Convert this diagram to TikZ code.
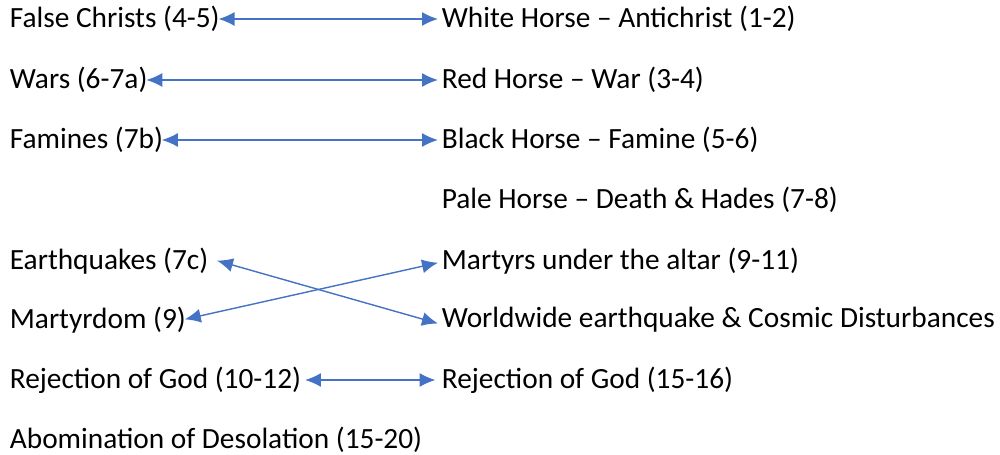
\documentclass[tikz,border=0pt]{standalone}
\usepackage{fontspec}
\setmainfont{Carlito}
\usetikzlibrary{arrows.meta, positioning}
\definecolor{cblue}{HTML}{4472C4}
\tikzset{
  every picture/.style={font=\fontsize{16.7}{20}\selectfont},
  item/.style={anchor=west, inner sep=2pt},
  link/.style={{Latex[length=3.2mm, width=2.8mm]}-{Latex[length=3.2mm, width=2.8mm]}, draw=cblue, line width=0.8pt},
}

\begin{document}
\begin{tikzpicture}[x=0.02cm, y=-0.02cm]
  \useasboundingbox (0,0) rectangle (1000,455);
  % left column
  \node[item] (fc) at (6,19) {False Christs (4-5)};
  \node[item] (wa) at (6,80) {Wars (6-7a)};
  \node[item] (fa) at (6,140) {Famines (7b)};
  \node[item] (eq) at (6,261) {Earthquakes (7c)};
  \node[item] (ma) at (6,320) {Martyrdom (9)};
  \node[item] (rl) at (6,380) {Rejection of God (10-12)};
  \node[item] (ab) at (6,440) {Abomination of Desolation (15-20)};
  % right column
  \node[item] (wh) at (438,19) {White Horse – Antichrist (1-2)};
  \node[item] (rh) at (438,80) {Red Horse – War (3-4)};
  \node[item] (bh) at (438,140) {Black Horse – Famine (5-6)};
  \node[item] (ph) at (438,200) {Pale Horse – Death \& Hades (7-8)};
  \node[item] (mu) at (438,261) {Martyrs under the altar (9-11)};
  \node[item] (we) at (438,320) {Worldwide earthquake \& Cosmic Disturbances};
  \node[item] (rr) at (438,380) {Rejection of God (15-16)};
  % connectors
  \foreach \f/\t in {fc/wh, wa/rh, fa/bh}
    \draw[link, shorten <=-1mm] (\f.east) -- (\t.west);
  \draw[link, shorten <=1mm] ([yshift=1pt]eq.east) -- ([yshift=-2pt]we.west);
  \draw[link, shorten <=-1mm] ([yshift=1pt]ma.east) -- ([yshift=-1pt]mu.west);
  \draw[link, shorten >=0.5mm] (rl.east) -- (rr.west);
\end{tikzpicture}
\end{document}
